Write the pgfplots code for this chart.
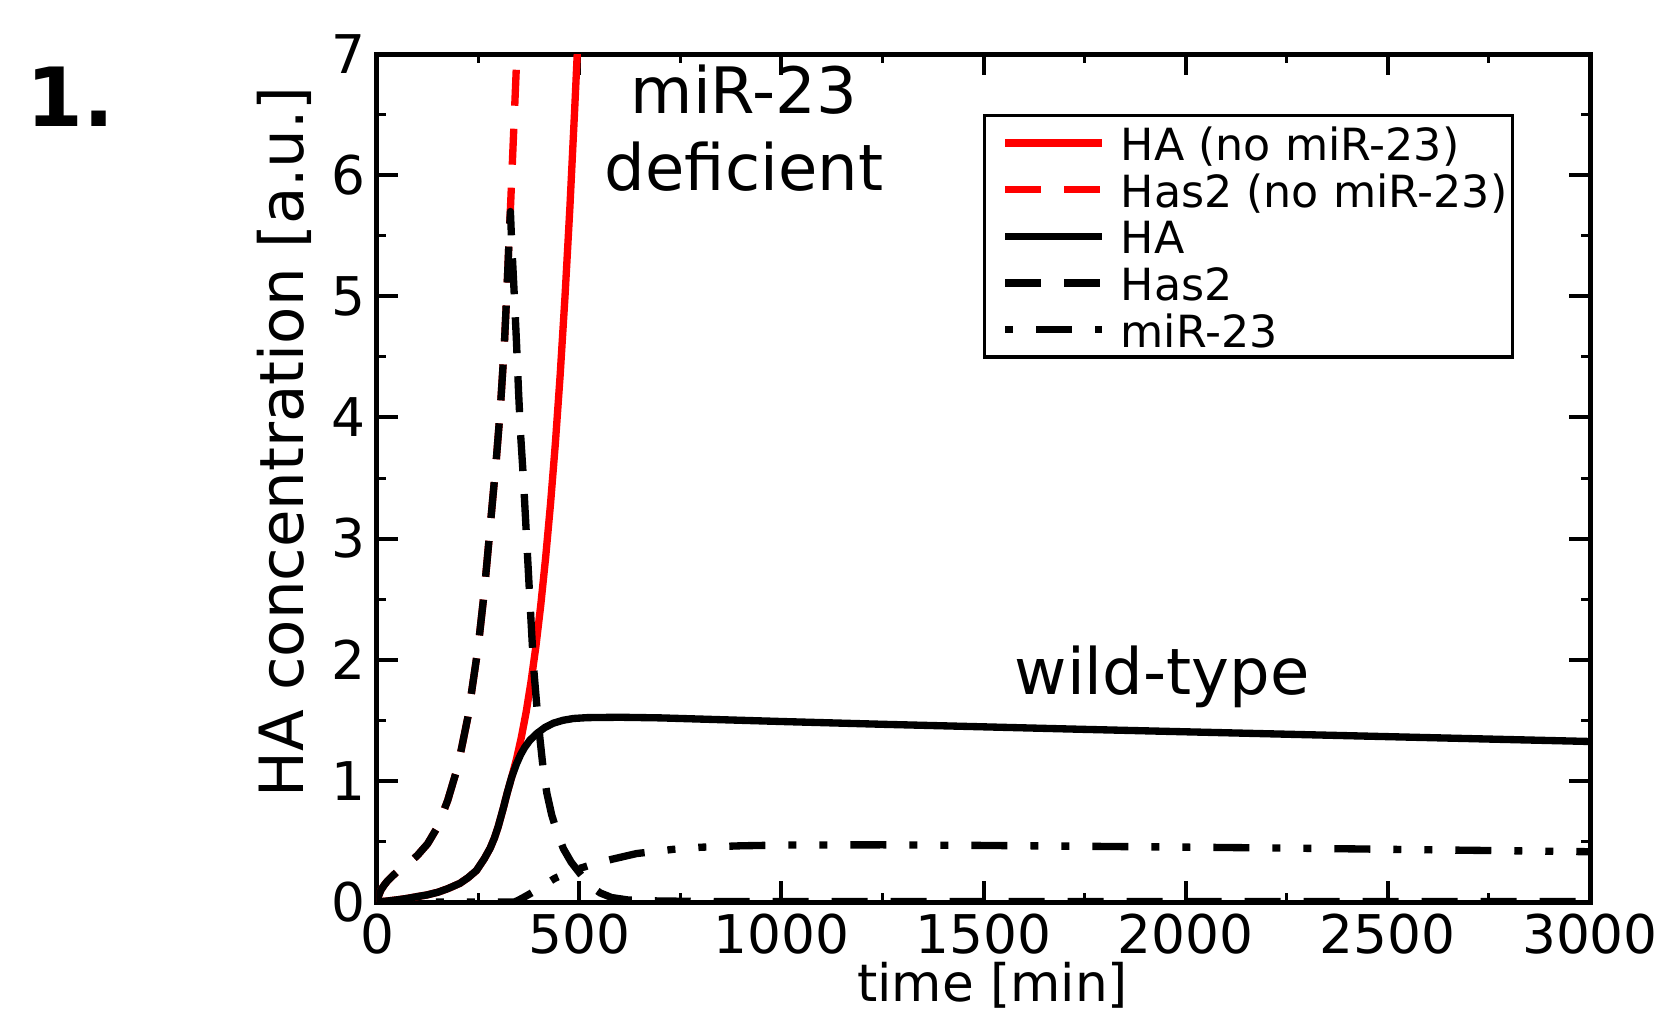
\documentclass[border=0pt]{standalone}
\usepackage{fontspec}
\setmainfont{DejaVu Sans}
\usepackage{pgfplots}
\pgfplotsset{compat=1.18}
\begin{document}
\begin{tikzpicture}
\useasboundingbox (-113.1pt,-32.4pt) rectangle (384.9pt,270.6pt);
\begin{axis}[
  at={(0pt,0pt)}, anchor=south west,
  scale only axis, width=363.9pt, height=254.4pt,
  xmin=0, xmax=3000, ymin=0, ymax=7,
  xtick={0,500,...,3000}, ytick={0,1,...,7},
  minor x tick num=1, minor y tick num=1,
  major tick length=6.3pt, minor tick length=2.8pt,
  every major tick/.append style={line width=1.2pt, black},
  every minor tick/.append style={line width=0.9pt, black},
  axis line style={line width=1.5pt, line join=miter},
  tick label style={font=\fontsize{16}{19}\selectfont},
  /pgf/number format/assume math mode=true,
  /pgf/number format/1000 sep={},
  scaled ticks=false,
  xlabel={time [min]}, ylabel={HA concentration [a.u.]},
  xlabel style={at={(axis description cs:0.5075,-0.098)}, anchor=center, font=\fontsize{15.5}{18}\selectfont},
  ylabel style={at={(axis description cs:-0.0767,0.5425)}, anchor=center, font=\fontsize{18.3}{21}\selectfont},
  legend style={at={(axis description cs:0.4996,0.9292)}, anchor=north west, draw=black, line width=1pt,
    inner xsep=1.5pt, inner ysep=1.2pt, font=\fontsize{13.3}{16}\selectfont,
    nodes={inner xsep=0pt, inner ysep=1.1pt, text height=11.1pt, text depth=0.7pt}},
  legend cell align=left,
  legend image code/.code={\path (-3.5pt,0pt); \draw[#1] (0pt,0pt) -- (29pt,0pt); \path (33.6pt,0pt);},
]
\addplot[red, line width=2.2pt, line join=round] coordinates {
(0,0) (25,0.008) (50,0.018) (75,0.03) (100,0.045) (123,0.058) (150,0.08) (175,0.11) (205,0.154) (225,0.2) (246,0.26) (265,0.355) (280,0.445) (290,0.525) (300,0.625) (312,0.77) (322,0.9) (333,1.03)
(345,1.18) (357,1.36) (369,1.57) (381,1.82) (393,2.11) (405,2.45) (417,2.84) (429,3.28) (441,3.78) (453,4.35) (465,5.0) (477,5.73) (489,6.55) (498,7.2)
};
\addlegendentry{HA (no miR-23)}
\addplot[red, line width=2.2pt, line join=round, dash pattern=on 10.8pt off 6.9pt] coordinates {
(0,0) (5,0.06) (10,0.1) (18,0.14) (25,0.17) (40,0.22) (55,0.265) (75,0.31) (100,0.385) (125,0.48) (150,0.62) (175,0.84) (200,1.12) (225,1.53) (250,2.1) (265,2.55) (280,3.1) (295,3.65) (305,4.07) (315,4.6) (322,5.1) (327,5.5)
(331,5.8) (336,6.2) (341,6.6) (346,7.0) (350,7.3)
};
\addlegendentry{Has2 (no miR-23)}
\addplot[black, line width=2.2pt, line join=round] coordinates {
(0,0) (25,0.008) (50,0.018) (75,0.03) (100,0.045) (123,0.058) (150,0.08) (175,0.11) (205,0.154) (225,0.2) (246,0.26) (265,0.355) (280,0.445) (290,0.525) (300,0.625) (312,0.77) (322,0.9) (333,1.03)
(345,1.14) (355,1.215) (365,1.275) (378,1.335) (395,1.39) (415,1.44) (436,1.476) (460,1.50) (486,1.515) (520,1.522) (600,1.525) (700,1.52) (800,1.51) (1000,1.49) (1250,1.467) (1500,1.446) (1750,1.425) (2000,1.405) (2250,1.385) (2500,1.365) (2750,1.345) (3000,1.325)
};
\addlegendentry{HA}
\addplot[black, line width=2.2pt, line join=round, dash pattern=on 10.8pt off 6.9pt] coordinates {
(0,0) (5,0.06) (10,0.1) (18,0.14) (25,0.17) (40,0.22) (55,0.265) (75,0.31) (100,0.385) (125,0.48) (150,0.62) (175,0.84) (200,1.12) (225,1.53) (250,2.1) (265,2.55) (280,3.1) (295,3.65) (305,4.07) (315,4.6) (322,5.1) (327,5.5)
(330,5.7) (333,5.45) (340,4.98) (345,4.62) (350,4.22) (355,3.87) (362,3.5) (370,3.0) (378,2.5) (387,1.95) (395,1.63) (403,1.35) (411,1.1) (420,0.9) (432,0.72) (445,0.58) (461,0.44) (480,0.33) (502,0.235) (525,0.14) (552,0.075) (580,0.037) (620,0.017) (700,0.008) (850,0.004) (3000,0.003)
};
\addlegendentry{Has2}
\addplot[black, line width=2.2pt, line join=round, dash pattern=on 10.8pt off 6.9pt on 2.4pt off 6.9pt on 2.4pt off 6.9pt,
  legend image post style={dash phase=27pt}] coordinates {
(0,0) (340,0) (350,0.015) (366,0.044) (390,0.09) (407,0.126) (440,0.196) (470,0.24) (502,0.278) (540,0.318) (580,0.352) (642,0.40) (700,0.422) (733,0.435) (800,0.452) (900,0.464) (1000,0.47) (1250,0.472) (1500,0.467) (1750,0.46) (2000,0.453) (2250,0.445) (2500,0.435) (2750,0.425) (3000,0.415)
};
\addlegendentry{miR-23}
\node[anchor=base, font=\fontsize{19.2}{22}\selectfont] at (axis cs:907.7,6.505) {miR-23};
\node[anchor=base, font=\fontsize{19.2}{22}\selectfont] at (axis cs:907.7,5.873) {deficient};
\node[anchor=base, font=\fontsize{19.2}{22}\selectfont] at (axis cs:1941.5,1.71) {wild-type};
\end{axis}
\node[anchor=base west, inner sep=0pt, font=\fontsize{24.5}{28}\selectfont\bfseries] at (-105.3pt,232.5pt) {1.};
\end{tikzpicture}
\end{document}
